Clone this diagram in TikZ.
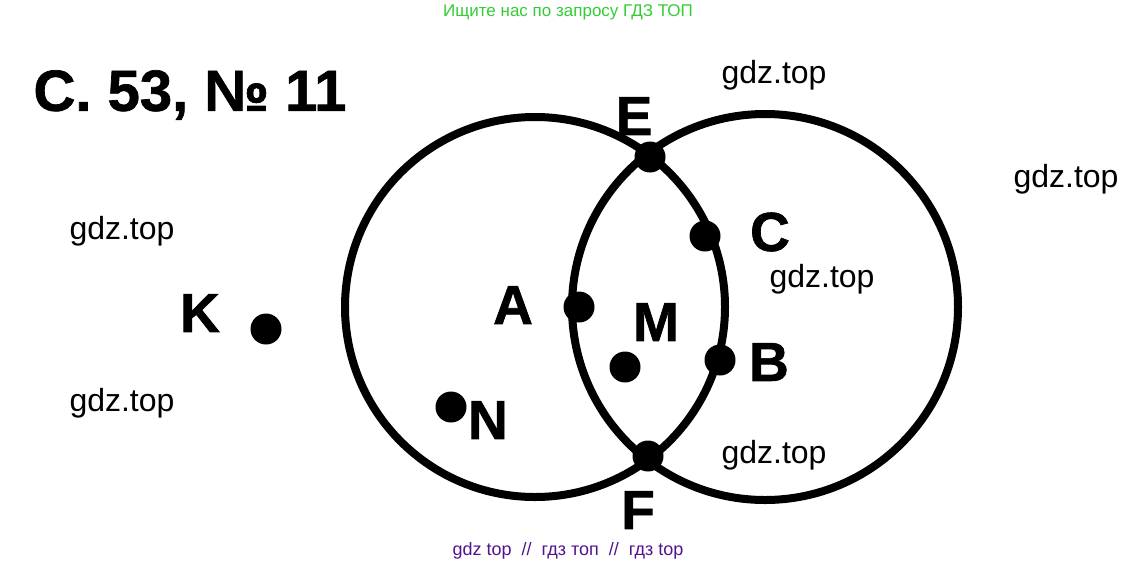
\documentclass[tikz,border=0pt]{standalone}
\usepackage{fontspec}
\setmainfont{Liberation Sans}
\newfontfamily\heavyfont[FakeBold=1.2]{Liberation Sans Bold}
\definecolor{gdzgreen}{RGB}{51,204,51}
\definecolor{gdzpurple}{RGB}{80,20,140}
\begin{document}
\begin{tikzpicture}[x=1pt, y=-1pt,
    dot/.style={circle, fill=black, inner sep=0pt, minimum size=31pt},
    lbl/.style={font=\fontsize{55}{55}\heavyfont},
    wmark/.style={font=\fontsize{32}{32}\selectfont}]
    \useasboundingbox (0,0) rectangle (1137,566);

    \node (top) [text=gdzgreen, font=\fontsize{17}{17}\selectfont] at (568,12) {Ищите нас по запросу ГДЗ ТОП};
    \node (bottom) [text=gdzpurple, font=\fontsize{18}{18}\selectfont] at (568,551) {gdz top~~//~~гдз топ~~//~~гдз top};
    \node (title) [font=\fontsize{58}{58}\heavyfont] at (190,95) {С. 53, № 11};

    \draw[line width=8pt] (535,307) circle (190);
    \draw[line width=8pt] (765,307) circle (193);

    \node (E) [dot] at (650,157) {};
    \node (F) [dot] at (648,456) {};
    \node (C) [dot] at (705,236) {};
    \node (B) [dot] at (720,360) {};
    \node (A) [dot] at (579,307) {};
    \node (M) [dot] at (625,367) {};
    \node (N) [dot] at (451,407) {};
    \node (K) [dot] at (266,329) {};

    \node (Etext) [lbl] at (634,116) {E};
    \node (Ftext) [lbl] at (638,510) {F};
    \node (Ctext) [lbl] at (770,232) {C};
    \node (Btext) [lbl] at (769,362) {B};
    \node (Atext) [lbl] at (513,305) {A};
    \node (Mtext) [lbl] at (656,322) {M};
    \node (Ntext) [lbl] at (488,420) {N};
    \node (Ktext) [lbl] at (200,313) {K};

    \node (w1) [wmark] at (774,75) {gdz.top};
    \node (w2) [wmark] at (1066,179) {gdz.top};
    \node (w3) [wmark] at (122,231) {gdz.top};
    \node (w4) [wmark] at (822,279) {gdz.top};
    \node (w5) [wmark] at (122,403) {gdz.top};
    \node (w6) [wmark] at (774,455) {gdz.top};
\end{tikzpicture}
\end{document}
